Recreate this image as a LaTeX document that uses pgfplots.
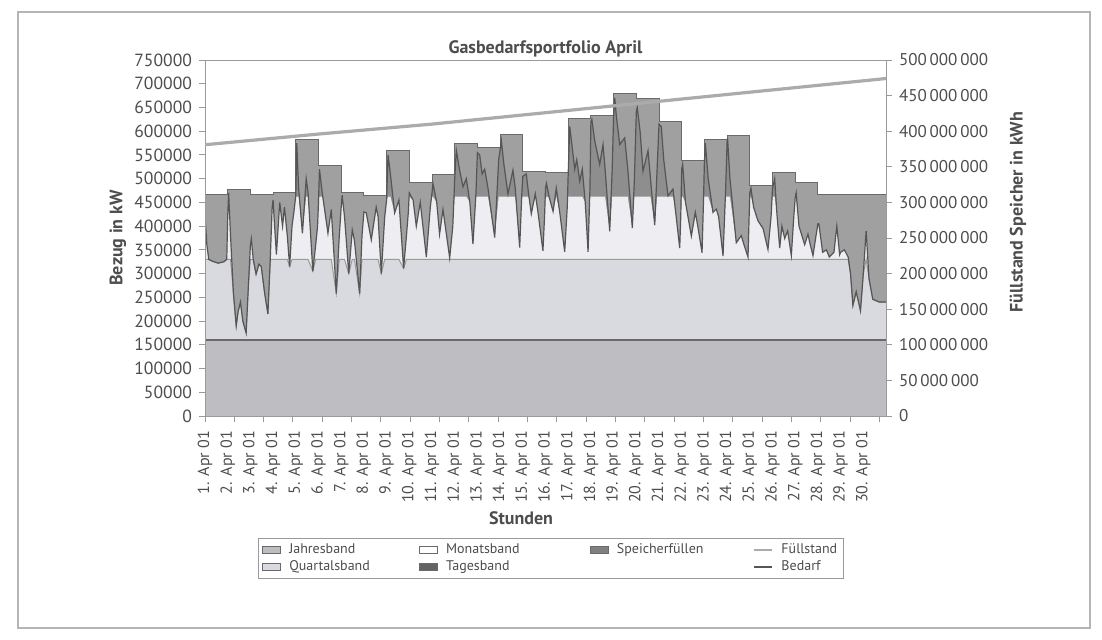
\documentclass[border=0pt]{standalone}
\usepackage{fontspec}
\setmainfont{PT Sans}
\usepackage{pgfplots}
\usepackage{pgfplotstable}
\pgfplotsset{compat=1.18}

\definecolor{jahres}{HTML}{BEBEC2}
\definecolor{quartal}{HTML}{D9D9E0}
\definecolor{monat}{HTML}{EEEEF2}
\definecolor{tages}{HTML}{8E8E8E}
\definecolor{speicher}{HTML}{A0A0A0}
\definecolor{stepcol}{HTML}{6A6A6A}
\definecolor{bedarf}{HTML}{555555}
\definecolor{fuell}{HTML}{ABABAB}
\definecolor{textgray}{HTML}{4D4D4D}
\definecolor{axiscol}{HTML}{9A9A9A}
\definecolor{framecol}{HTML}{B5B5B5}

\pgfplotstableread{
h T
0 466000
24 477000
48 466000
72 470000
96 583000
120 528000
144 471000
168 464000
192 560000
216 492000
240 508000
264 575000
288 565000
312 593000
336 515000
360 513000
384 626000
408 633000
432 680000
456 669000
480 621000
504 539000
528 582000
552 590000
576 486000
600 513000
624 492000
648 467000
672 467000
696 467000
720 467000
}\steptable

\pgfplotstableread{
h D
0 420000
2 360000
4 330000
8 326000
14 322000
20 325000
23 330000
24 420000
25 470000
27 380000
30 260000
33 190000
35 220000
37.5 240000
40 200000
43.5 175000
46 280000
48 360000
49 373000
51 330000
54 299000
57 320000
59.5 315000
63 260000
66.5 215000
69 330000
71 440000
72 455000
73 420000
75.5 340000
79 450000
82 400000
84 440000
87 380000
89.5 315000
92 400000
94 430000
96 465000
97 575000
99 480000
103 385000
107 500000
109 470000
114 305000
117 360000
119 400000
120 450000
121 520000
124 470000
130 385000
133.5 435000
138.8 258000
142 380000
144 440000
145 465000
147.5 420000
152 300000
155.7 392000
158 370000
163.5 258000
166 380000
168 430000
170.5 428000
175.8 371000
181 440000
183 420000
186.4 300000
190 420000
192 455000
193.5 550000
196 510000
200.5 428000
205 455000
210 311000
213 380000
215 430000
216 470000
220 455000
223.4 400000
227.6 450000
234 335000
238.2 440000
240 470000
241 490000
245 450000
248 383000
251.6 435000
258.7 333000
262 400000
264 500000
265.7 560000
269 520000
272.8 483000
276.3 500000
280 450000
283.3 362000
286.5 470000
288 555000
290.4 550000
293 510000
295.7 520000
299.2 480000
306.3 376000
310.5 540000
312 560000
313.3 580000
316 530000
320.3 468000
325.6 518000
328 480000
332.7 355000
335 470000
336 505000
339.7 510000
342 470000
345 426000
349.2 468000
352 430000
357.3 348000
359 420000
360 480000
361 490000
364 460000
368 431000
371.4 480000
375 430000
380.3 346000
383 440000
384 510000
385.6 610000
388 570000
390.9 520000
393 540000
396.2 495000
398.9 520000
402 450000
405 346000
407 480000
408 620000
409 625000
412 580000
417.3 530000
420.8 572000
423 520000
427.9 389000
430.5 520000
432 630000
433.2 670000
435 630000
438.5 572000
443.7 586000
447 520000
451.8 396000
454 500000
456 640000
457 650000
460 600000
463.1 516000
468.4 559000
471 500000
475.5 402000
478 520000
480 615000
482.4 610000
485 540000
489.5 464000
494.8 478000
497 440000
501.9 354000
503 420000
504 520000
505 530000
508 450000
514.2 379000
518.4 429000
521 400000
525.5 344000
527 450000
528 535000
529 575000
532 500000
537.1 429000
540.6 436000
543 420000
547.7 337000
550.5 480000
552 578000
552.5 585000
555 500000
561.7 365000
567 380000
570 360000
574.1 335000
576 470000
577.2 480000
580 440000
584.7 411000
590 395000
595.2 351000
598.5 420000
600 480000
602.3 500000
604.5 430000
607.6 354000
610 400000
612.9 374000
616 390000
619.9 338000
622.5 420000
624 460000
625 470000
628 400000
634 361000
637.5 383000
640 360000
642.8 338000
646 380000
648 405000
649 405000
653 345000
657 350000
660 335000
665 345000
668 400000
671 340000
672 345000
676 350000
680 335000
682.5 300000
685 233000
688.5 262000
693 222000
696 300000
699 390000
702 290000
706 246000
713 240000
720 240000
}\demtable

\pgfplotstableread{
h F
0 381000000
120 396000000
240 410000000
360 426000000
480 442000000
600 458000000
720 474000000
}\fuelltable

\begin{document}
\begin{tikzpicture}
\begin{axis}[
  at={(102.5pt,111.5pt)}, anchor=south west,
  scale only axis, width=340.5pt, height=178pt,
  xmin=0, xmax=720, ymin=0, ymax=750000,
  axis line style={axiscol}, tick style={axiscol, line width=0.5pt},
  tick align=outside, major tick length=3pt,
  ytick pos=left, xtick pos=bottom,
  xtick={0,31,62,93,124,155,186,217,248,279,310,341,372,403,434,465,496,527,558,589,620,651,682,713},
  xticklabels={},
  extra x ticks={0,24,48,72,96,120,144,168,192,216,240,264,288,312,336,360,384,408,432,456,480,504,528,552,576,600,624,648,672,696},
  extra x tick labels={1. Apr 01,2. Apr 01,3. Apr 01,4. Apr 01,5. Apr 01,6. Apr 01,7. Apr 01,8. Apr 01,9. Apr 01,10. Apr 01,11. Apr 01,12. Apr 01,13. Apr 01,14. Apr 01,15. Apr 01,16. Apr 01,17. Apr 01,18. Apr 01,19. Apr 01,20. Apr 01,21. Apr 01,22. Apr 01,23. Apr 01,24. Apr 01,25. Apr 01,26. Apr 01,27. Apr 01,28. Apr 01,29. Apr 01,30. Apr 01},
  extra x tick style={major tick length=0pt,
    xticklabel style={rotate=90, anchor=east, font=\fontsize{8}{9}\selectfont, text=textgray, xshift=1pt}},
  xticklabel shift=5pt,
  ytick={0,50000,100000,150000,200000,250000,300000,350000,400000,450000,500000,550000,600000,650000,700000,750000},
  scaled y ticks=false,
  yticklabel style={font=\fontsize{8.8}{10}\selectfont, text=textgray,
    /pgf/number format/fixed, /pgf/number format/1000 sep={},
    /pgf/number format/assume math mode=true},
  title={Gasbedarfsportfolio April},
  title style={at={(axis description cs:0.5,1)}, anchor=base, yshift=-2.5pt,
    font=\bfseries\fontsize{9}{10}\selectfont, text=textgray},
  xlabel={Stunden},
  xlabel style={at={(axis description cs:0.464,-0.2865)}, anchor=center,
    font=\bfseries\fontsize{9}{10}\selectfont, text=textgray},
  ylabel={Bezug in kW},
  ylabel style={at={(axis description cs:-0.1278,0.5)}, anchor=center,
    font=\bfseries\fontsize{9}{10}\selectfont, text=textgray},
]
% Speicherfuellen: everything between demand and daily supply step
\addplot[const plot, fill=speicher, draw=none, forget plot] table[x=h, y=T] {\steptable} \closedcycle;
% Tagesband: part of the demand above the Monatsband
\addplot[fill=tages, draw=none, forget plot] table[x=h, y=D] {\demtable} \closedcycle;
% Monatsband (under the demand)
\addplot[fill=monat, draw=none, forget plot] table[x=h, y expr={min(\thisrow{D},462000)}] {\demtable} \closedcycle;
% Quartalsband (under the demand)
\addplot[fill=quartal, draw=none, forget plot] table[x=h, y expr={min(\thisrow{D},330000)}] {\demtable} \closedcycle;
\addplot[color=axiscol, line width=0.5pt, forget plot] table[x=h, y expr={min(\thisrow{D},330000)}] {\demtable};
% Jahresband
\addplot[fill=jahres, draw=none, forget plot] coordinates {(0,160000) (720,160000)} \closedcycle;
\addplot[color=stepcol, line width=0.6pt, forget plot] coordinates {(0,160000) (720,160000)};
% supply step outline
\addplot[const plot, draw=stepcol, line width=0.5pt, forget plot] table[x=h, y=T] {\steptable};
% Bedarf
\addplot[color=bedarf, line width=0.6pt, forget plot] table[x=h, y=D] {\demtable};
\end{axis}

\begin{axis}[
  at={(102.5pt,111.5pt)}, anchor=south west,
  scale only axis, width=340.5pt, height=178pt,
  xmin=0, xmax=720, ymin=0, ymax=500000000,
  xtick=\empty, ytick pos=right,
  axis line style={axiscol}, tick style={axiscol, line width=0.5pt},
  tick align=outside, major tick length=3pt,
  ytick={0,50000000,100000000,150000000,200000000,250000000,300000000,350000000,400000000,450000000,500000000},
  scaled y ticks=false,
  yticklabel style={font=\fontsize{8.5}{10}\selectfont, text=textgray,
    /pgf/number format/fixed, /pgf/number format/1000 sep={\,},
    /pgf/number format/assume math mode=true},
  ylabel={Füllstand Speicher in kWh},
  ylabel style={at={(axis description cs:1.1938,0.573)}, anchor=center,
    font=\bfseries\fontsize{9}{10}\selectfont, text=textgray},
  legend columns=4,
  legend style={at={(axis description cs:0.0778,-0.3427)}, anchor=north west,
    draw=axiscol, line width=0.5pt, font=\fontsize{7}{8.5}\selectfont, text=textgray,
    inner xsep=2pt, inner ysep=1.5pt, nodes={inner sep=1pt},
    /tikz/every odd column/.append style={column sep=3pt},
    /tikz/every even column/.append style={column sep=0pt}},
  legend cell align=left,
]
\addplot[color=fuell, line width=1.6pt, forget plot] table[x=h, y=F] {\fuelltable};
\addlegendimage{legend image code/.code={\draw[fill=jahres, draw=stepcol, line width=0.4pt] (0pt,-1.6pt) rectangle (9pt,1.6pt);}}
\addlegendentry{\makebox[64pt][l]{Jahresband}}
\addlegendimage{legend image code/.code={\draw[fill=white, draw=stepcol, line width=0.4pt] (0pt,-1.6pt) rectangle (9pt,1.6pt);}}
\addlegendentry{\makebox[71pt][l]{Monatsband}}
\addlegendimage{legend image code/.code={\draw[fill=speicher!80!black, draw=stepcol, line width=0.4pt] (0pt,-1.6pt) rectangle (9pt,1.6pt);}}
\addlegendentry{\makebox[67pt][l]{Speicherfüllen}}
\addlegendimage{legend image code/.code={\draw[color=fuell, line width=1.3pt] (0pt,0pt) -- (9pt,0pt);}}
\addlegendentry{Füllstand}
\addlegendimage{legend image code/.code={\draw[fill=quartal, draw=stepcol, line width=0.4pt] (0pt,-1.6pt) rectangle (9pt,1.6pt);}}
\addlegendentry{\makebox[64pt][l]{Quartalsband}}
\addlegendimage{legend image code/.code={\draw[fill=tages!70!black, draw=stepcol, line width=0.4pt] (0pt,-1.6pt) rectangle (9pt,1.6pt);}}
\addlegendentry{\makebox[71pt][l]{Tagesband}}
\addlegendimage{empty legend}
\addlegendentry{}
\addlegendimage{legend image code/.code={\draw[color=bedarf, line width=0.6pt] (0pt,0pt) -- (9pt,0pt);}}
\addlegendentry{Bedarf}
\end{axis}
\draw[framecol, line width=0.6pt] (9pt,5.5pt) rectangle (545pt,313.5pt);
\pgfresetboundingbox
\path[use as bounding box] (0,0) rectangle (551pt,319.5pt);
\end{tikzpicture}
\end{document}
